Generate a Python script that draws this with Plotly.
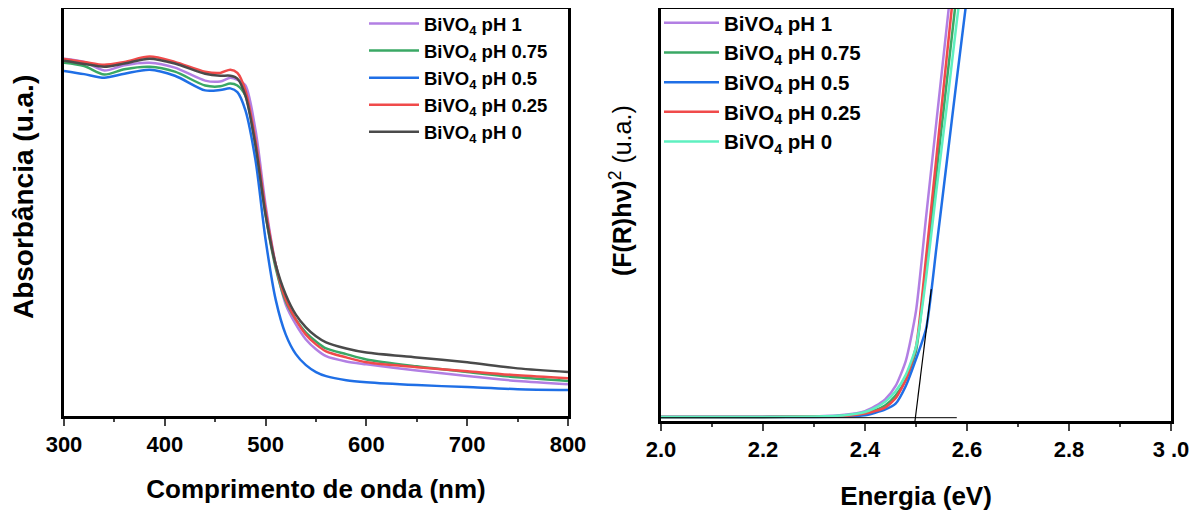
import plotly.graph_objects as go

# ---------------- Left panel: absorbance spectra ----------------
wl = [300, 320, 340, 360, 385, 410, 440, 455, 465, 472, 480, 490, 500, 510, 520,
      530, 540, 550, 560, 580, 600, 650, 700, 750, 800]

abs_ph1 = [0.878, 0.870, 0.849, 0.862, 0.868, 0.856, 0.824, 0.822, 0.831, 0.826, 0.812,
           0.702, 0.518, 0.372, 0.274, 0.225, 0.188, 0.164, 0.147, 0.134, 0.127, 0.112,
           0.098, 0.086, 0.078]
abs_ph075 = [0.868, 0.860, 0.839, 0.852, 0.858, 0.846, 0.812, 0.810, 0.817, 0.812, 0.787,
             0.665, 0.494, 0.364, 0.281, 0.237, 0.205, 0.183, 0.166, 0.152, 0.139, 0.122,
             0.108, 0.095, 0.086]
abs_ph05 = [0.848, 0.840, 0.831, 0.841, 0.851, 0.836, 0.800, 0.801, 0.805, 0.796, 0.751,
            0.628, 0.433, 0.286, 0.200, 0.152, 0.125, 0.108, 0.098, 0.088, 0.083, 0.076,
            0.071, 0.066, 0.064]
abs_ph025 = [0.877, 0.870, 0.863, 0.870, 0.883, 0.870, 0.846, 0.843, 0.851, 0.843, 0.800,
             0.677, 0.506, 0.372, 0.286, 0.237, 0.200, 0.176, 0.159, 0.144, 0.132, 0.120,
             0.110, 0.100, 0.093]
abs_ph0 = [0.873, 0.865, 0.858, 0.866, 0.878, 0.866, 0.841, 0.836, 0.836, 0.829, 0.787,
           0.665, 0.494, 0.372, 0.298, 0.249, 0.218, 0.196, 0.181, 0.166, 0.156, 0.144,
           0.132, 0.117, 0.108]

# ---------------- Right panel: Tauc plot ----------------
energy = [2.0, 2.2, 2.3, 2.36, 2.40, 2.42, 2.44, 2.46, 2.48, 2.50, 2.52, 2.54, 2.56, 2.58, 2.60]

tauc_ph1 = [0.010, 0.010, 0.011, 0.015, 0.024, 0.036, 0.053, 0.085, 0.146, 0.267, 0.498,
            0.726, 0.954, 1.180, 1.400]
tauc_ph075 = [0.010, 0.010, 0.011, 0.013, 0.020, 0.026, 0.038, 0.062, 0.100, 0.170, 0.380,
              0.600, 0.820, 1.040, 1.260]
tauc_ph05 = [0.010, 0.010, 0.010, 0.011, 0.014, 0.020, 0.028, 0.042, 0.085, 0.150, 0.225,
             0.420, 0.625, 0.830, 1.030]
tauc_ph025 = [0.010, 0.010, 0.011, 0.012, 0.018, 0.024, 0.033, 0.055, 0.100, 0.180, 0.400,
              0.640, 0.880, 1.120, 1.360]
tauc_ph0 = [0.010, 0.010, 0.011, 0.014, 0.022, 0.032, 0.047, 0.072, 0.112, 0.180, 0.350,
            0.560, 0.760, 0.970, 1.170]

tangent_x = [2.497, 2.530]
tangent_y = [-0.01, 0.32]
baseline_x = [2.0, 2.58]
baseline_y = [0.008, 0.008]

left_ticks = [300, 400, 500, 600, 700, 800]
left_ticktext = ["300", "400", "500", "600", "700", "800"]
right_ticks = [2.0, 2.2, 2.4, 2.6, 2.8, 3.0]
right_ticktext = ["2.0", "2.2", "2.4", "2.6", "2.8", "3 .0"]

labels = ["BiVO<sub>4</sub> pH 1", "BiVO<sub>4</sub> pH 0.75", "BiVO<sub>4</sub> pH 0.5",
          "BiVO<sub>4</sub> pH 0.25", "BiVO<sub>4</sub> pH 0"]
left_colors = ["#b27fe3", "#3aa865", "#1f6fe6", "#f04a4a", "#4a4a4a"]
right_colors = ["#b27fe3", "#3aa865", "#1f6fe6", "#f04a4a", "#5ff0c0"]

left_series = [abs_ph1, abs_ph075, abs_ph05, abs_ph025, abs_ph0]
right_series = [tauc_ph1, tauc_ph075, tauc_ph05, tauc_ph025, tauc_ph0]

FONT = "Liberation Sans, Arial, sans-serif"
W, H = 1202, 511

fig = go.Figure()

for i, (lab, ys) in enumerate(zip(labels, left_series)):
    fig.add_trace(go.Scatter(x=wl, y=ys, mode="lines", name="<b>%s</b>" % lab,
                             line=dict(color=left_colors[i], width=2.5, shape="spline", smoothing=0.8),
                             xaxis="x", yaxis="y", legend="legend"))

for i, (lab, ys) in enumerate(zip(labels, right_series)):
    fig.add_trace(go.Scatter(x=energy, y=ys, mode="lines", name="<b>%s</b>" % lab,
                             line=dict(color=right_colors[i], width=2.5, shape="spline", smoothing=0.6),
                             xaxis="x2", yaxis="y2", legend="legend2"))

fig.add_trace(go.Scatter(x=baseline_x, y=baseline_y, mode="lines", showlegend=False,
                         line=dict(color="black", width=1), xaxis="x2", yaxis="y2"))
fig.add_trace(go.Scatter(x=tangent_x, y=tangent_y, mode="lines", showlegend=False,
                         line=dict(color="black", width=1.2), xaxis="x2", yaxis="y2"))

axis_common = dict(showline=True, linecolor="black", linewidth=2.5, mirror=True,
                   showgrid=False, zeroline=False, automargin=False)

fig.update_layout(
    width=W, height=H,
    margin=dict(l=0, r=0, t=0, b=0, autoexpand=False),
    paper_bgcolor="white", plot_bgcolor="white",
    font=dict(family=FONT, color="black"),
    xaxis=dict(domain=[56/W, 560/W], range=[300, 800], anchor="y",
               tickvals=left_ticks, ticktext=["<b>%s</b>" % t for t in left_ticktext],
               ticks="outside", ticklen=7, tickwidth=2,
               minor=dict(dtick=50, tick0=300, ticks="outside", ticklen=3, tickwidth=2),
               tickfont=dict(size=22, family=FONT),
               title=dict(text="<b>Comprimento de onda (nm)</b>", font=dict(size=26), standoff=24),
               **axis_common),
    yaxis=dict(domain=[1-408/H, 1-1/H], range=[0, 1], anchor="x",
               showticklabels=False, ticks="",
               title=dict(text="&nbsp;&nbsp;&nbsp;&nbsp;<b>Absorbância (u.a.)</b>",
                          font=dict(size=28), standoff=23),
               **axis_common),
    xaxis2=dict(domain=[653/W, 1163/W], range=[2.0, 3.0], anchor="y2",
                tickvals=right_ticks, ticktext=["<b>%s</b>" % t for t in right_ticktext],
                ticks="outside", ticklen=7, tickwidth=2,
                minor=dict(dtick=0.1, tick0=2.0, ticks="outside", ticklen=3, tickwidth=2),
                tickfont=dict(size=22, family=FONT),
                title=dict(text="<b>Energia (eV)</b>", font=dict(size=26), standoff=26),
                **axis_common),
    yaxis2=dict(domain=[1-413/H, 1-1/H], range=[0, 1], anchor="x2",
                showticklabels=False, ticks="",
                title=dict(text="&nbsp;&nbsp;&nbsp;&nbsp;&nbsp;&nbsp;&nbsp;<b>(F(R)hν)</b><sup>2</sup> (u.a.)",
                           font=dict(size=25), standoff=20),
                **axis_common),
    legend=dict(x=356/W, y=1+3/H, xanchor="left", yanchor="top",
                bgcolor="rgba(0,0,0,0)", borderwidth=0, itemwidth=50,
                font=dict(size=18.5, family=FONT)),
    legend2=dict(x=651/W, y=1+5/H, xanchor="left", yanchor="top",
                 bgcolor="rgba(0,0,0,0)", borderwidth=0, itemwidth=55,
                 font=dict(size=20.5, family=FONT)),
)

fig.write_html("out.html")
